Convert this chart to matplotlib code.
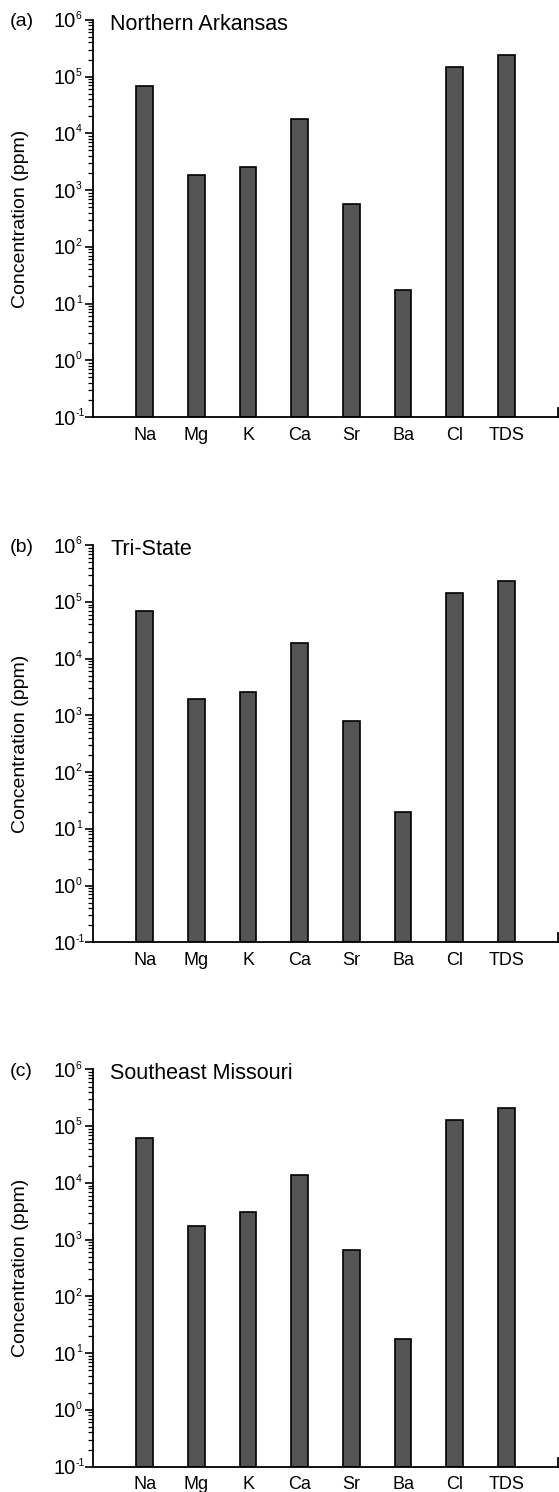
import matplotlib
matplotlib.use("Agg")
import matplotlib.pyplot as plt
import matplotlib.transforms as mtransforms
from matplotlib.lines import Line2D
from matplotlib.ticker import LogLocator, NullFormatter, FixedLocator

plt.rcParams["font.family"] = ["Liberation Sans", "DejaVu Sans"]

# Brine composition (ppm) for each district
species = ["Na", "Mg", "K", "Ca", "Sr", "Ba", "Cl", "TDS"]
northern_arkansas = [68000, 1850, 2550, 18000, 570, 17, 146000, 238000]
tri_state = [68000, 1950, 2550, 18500, 800, 20, 145000, 232000]
southeast_missouri = [61000, 1770, 3100, 14000, 670, 18, 128000, 208000]

panel_tags = ["(a)", "(b)", "(c)"]
panel_titles = ["Northern Arkansas", "Tri-State", "Southeast Missouri"]
panel_values = [northern_arkansas, tri_state, southeast_missouri]

y_min, y_max = 1e-1, 1e6
decades = list(range(-1, 7))

fig = plt.figure(figsize=(5.59, 14.92), dpi=100)

left, width = 0.1664, 0.832
bottoms = [0.7205, 0.3684, 0.0170]
height = 0.2662

for tag, title, values, bottom in zip(panel_tags, panel_titles, panel_values, bottoms):
    ax = fig.add_axes([left, bottom, width, height])
    ax.set_yscale("log")
    ax.set_ylim(y_min, y_max)
    ax.set_xlim(0, len(species) + 1)

    positions = list(range(1, len(species) + 1))
    ax.bar(positions, values, width=0.32, bottom=y_min,
           color="#545454", edgecolor="black", linewidth=1.2, zorder=2)

    ax.spines["top"].set_visible(False)
    ax.spines["right"].set_visible(False)
    for side in ("left", "bottom"):
        ax.spines[side].set_linewidth(1.3)

    # x axis: category names, no tick marks
    ax.xaxis.set_major_locator(FixedLocator(positions))
    ax.set_xticklabels(species, fontsize=13)
    ax.tick_params(axis="x", length=0, pad=7)

    # y axis: decade ticks labelled "10" with a small raised exponent
    ax.yaxis.set_major_locator(FixedLocator([10.0 ** d for d in decades]))
    ax.set_yticklabels(["10"] * len(decades))
    ax.yaxis.set_minor_locator(LogLocator(base=10, subs=range(2, 10), numticks=20))
    ax.yaxis.set_minor_formatter(NullFormatter())
    ax.tick_params(axis="y", which="major", direction="out", length=6,
                   width=1.2, labelsize=14.5, pad=6.2)
    ax.tick_params(axis="y", which="minor", direction="out", length=3.5, width=0.9)

    ytrans = ax.get_yaxis_transform()
    exp_offset = mtransforms.ScaledTranslation(-12.4 / 72, 0.6 / 72, fig.dpi_scale_trans)
    for d in decades:
        ax.text(0, 10.0 ** d, str(d), transform=ytrans + exp_offset,
                fontsize=7.5, ha="left", va="baseline", clip_on=False)

    ax.set_ylabel("Concentration (ppm)", fontsize=14)
    ax.yaxis.set_label_coords(-0.138, 0.5)

    # short closing tick at the right end of the x axis
    trans = mtransforms.blended_transform_factory(ax.transData, ax.transAxes)
    ax.add_line(Line2D([len(species) + 1] * 2, [0, 0.023], transform=trans,
                       color="black", linewidth=1.3, clip_on=False))

    ax.text(-0.178, 0.995, tag, transform=ax.transAxes, fontsize=14,
            ha="left", va="center")
    ax.text(0.037, 0.975, title, transform=ax.transAxes, fontsize=15.5,
            ha="left", va="baseline")

fig.savefig("out.png", dpi=100)
